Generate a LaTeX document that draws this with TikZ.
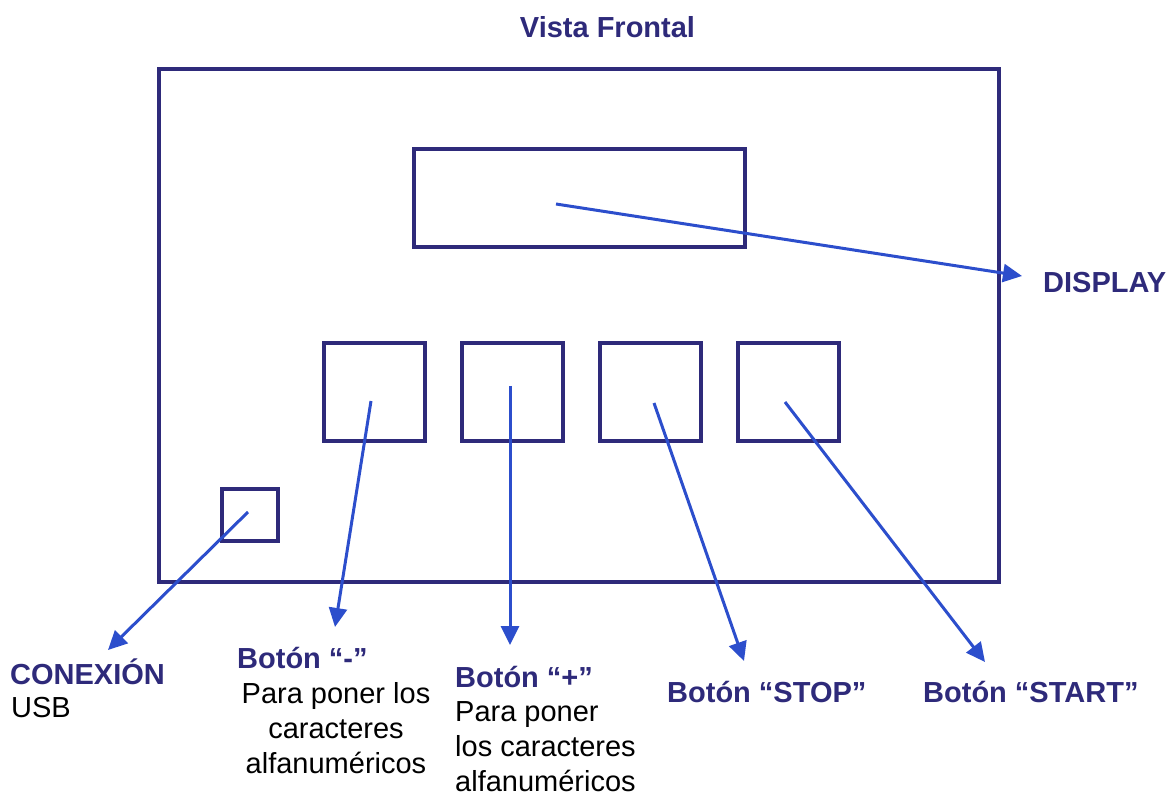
\documentclass[tikz,border=0pt]{standalone}
\usepackage{fontspec}
\setmainfont{Liberation Sans}
\usepackage{xcolor}
\usepackage{tikz}
\usetikzlibrary{arrows.meta,positioning}
\definecolor{navy}{RGB}{46,42,122}
\definecolor{arrblue}{RGB}{44,78,204}
\tikzset{box/.style={rectangle,draw=navy,line width=3.2pt,inner sep=0pt}}
\tikzset{ttl/.style={navy,font=\fontsize{29}{35}\selectfont\bfseries,inner sep=0pt}}
\tikzset{txt/.style={black,font=\fontsize{29}{35}\selectfont,inner sep=0pt}}

\begin{document}
\begin{tikzpicture}[x=1pt,y=-1pt,>={Triangle[length=19pt,width=18pt]}]
    \useasboundingbox (0,0) rectangle (1171,794);
    \node[box,minimum width=840pt,minimum height=513pt] (frame) at (579,325.5) {};
    \node[box,minimum width=331pt,minimum height=98pt] (disp) at (579.5,198) {};
    \node[box,minimum width=101pt,minimum height=98pt] (bminus) at (374.5,392) {};
    \node[box,minimum width=101pt,minimum height=98pt] (bplus) at (512.5,392) {};
    \node[box,minimum width=101pt,minimum height=98pt] (bstop) at (650.5,392) {};
    \node[box,minimum width=101pt,minimum height=98pt] (bstart) at (788.5,392) {};
    \node[box,minimum width=56pt,minimum height=52pt] (usb) at (250,515) {};

    \node[ttl,anchor=base] (vista) at (607.5,37.5) {Vista Frontal};
    \node[ttl,anchor=base west] (ldisp) at (1043,293) {DISPLAY};
    \node[ttl,anchor=base west] (lusb) at (10,684) {CONEXIÓN};
    \node[txt,anchor=base west] (lusbb) at (11,717) {USB};
    \node[ttl,anchor=base west] (lminus) at (237,668) {Botón “-”};
    \node[txt,anchor=north,align=center] (lminusb) at (336,682) {Para poner los\\caracteres\\alfanuméricos};
    \node[ttl,anchor=base west] (lplus) at (455,687) {Botón “+”};
    \node[txt,anchor=north west,align=left] (lplusb) at (455,701) {Para poner\\los caracteres\\alfanuméricos};
    \node[ttl,anchor=base west] (lstop) at (667,702) {Botón “STOP”};
    \node[ttl,anchor=base west] (lstart) at (923,702) {Botón “START”};

    \coordinate (d1) at (556,204);
    \coordinate (d2) at (1022,276);
    \coordinate (m1) at (371,401);
    \coordinate (m2) at (335,627);
    \coordinate (p1) at (510,386);
    \coordinate (p2) at (510,645);
    \coordinate (s1) at (654,403);
    \coordinate (s2) at (744,661);
    \coordinate (t1) at (785,402);
    \coordinate (t2) at (985,662);
    \coordinate (u1) at (248,512);
    \coordinate (u2) at (108,650);

    \draw [->,arrblue,line width=3pt] (d1) to [] (d2);
    \draw [->,arrblue,line width=3pt] (m1) to [] (m2);
    \draw [->,arrblue,line width=3pt] (p1) to [] (p2);
    \draw [->,arrblue,line width=3pt] (s1) to [] (s2);
    \draw [->,arrblue,line width=3pt] (t1) to [] (t2);
    \draw [->,arrblue,line width=3pt] (u1) to [] (u2);
\end{tikzpicture}
\end{document}
